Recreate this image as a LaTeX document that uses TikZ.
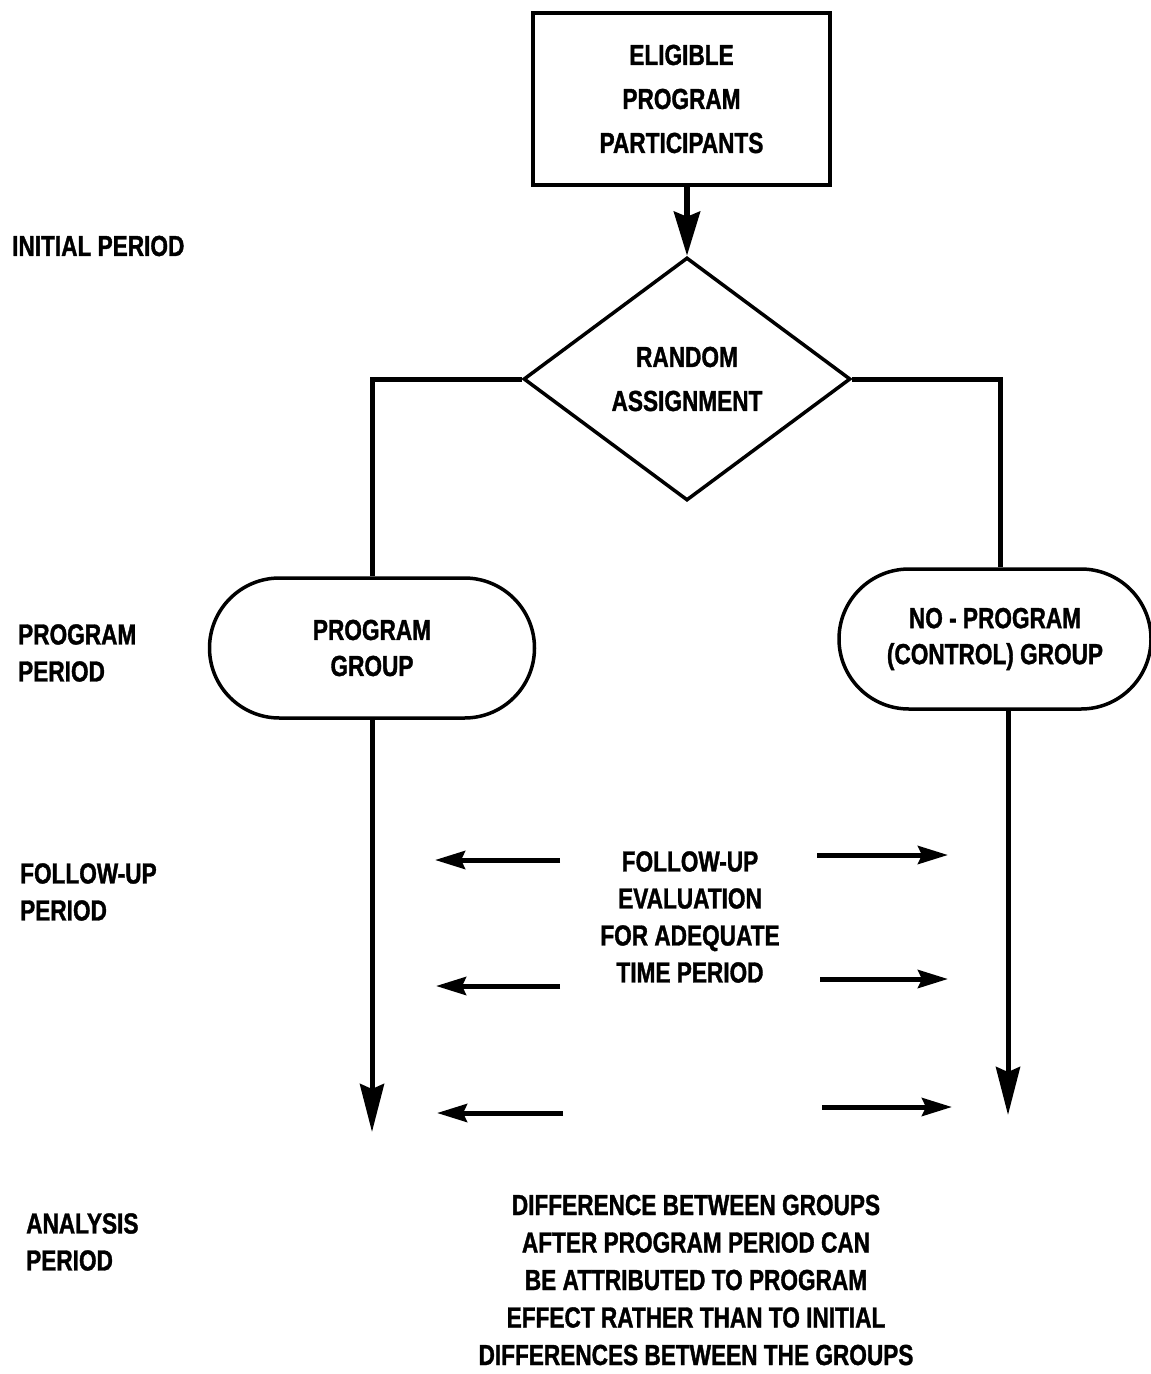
\documentclass[tikz,border=0pt]{standalone}
\usepackage{fontspec}
\setmainfont{Liberation Sans}[FakeStretch=0.78, BoldFeatures={FakeBold=1.2}]
\usetikzlibrary{shapes.geometric,shapes.misc,arrows.meta}

\tikzset{
  txt/.style={font=\bfseries\fontsize{29}{37}\selectfont, inner sep=0pt, align=center},
  sidelbl/.style={txt, align=left, anchor=west},
  boxnode/.style={txt, draw, line width=3.5pt, minimum width=297pt, minimum height=172pt,
    font=\bfseries\fontsize{29}{44}\selectfont},
  decision/.style={txt, diamond, draw, line width=3.5pt, aspect=1.35,
    minimum width=327pt, minimum height=243pt, font=\bfseries\fontsize{29}{44}\selectfont},
  pill/.style={txt, rounded rectangle, draw, line width=3.5pt,
    minimum width=325pt, minimum height=140pt, font=\bfseries\fontsize{29}{36}\selectfont},
  conn/.style={line width=5pt},
  varrow/.style={line width=5pt, -{Stealth[length=48pt,width=24pt,inset=5pt]}},
  harrow/.style={line width=5pt, -{Stealth[length=30pt,width=18pt,inset=4pt]}}
}

\begin{document}
\begin{tikzpicture}[x=1pt,y=-1pt]
  \useasboundingbox (0,0) rectangle (1151,1374);
  \fill[white] (0,0) rectangle (1151,1374);

  % period labels on the left
  \node[sidelbl] (lInit) at (12,246) {INITIAL PERIOD};
  \node[sidelbl] (lProg) at (18,653) {PROGRAM\\PERIOD};
  \node[sidelbl] (lFoll) at (20,892) {FOLLOW-UP\\PERIOD};
  \node[sidelbl] (lAnal) at (26,1242) {ANALYSIS\\PERIOD};

  % flow chart
  \node[boxnode] (elig) at (681.5,99) {ELIGIBLE\\PROGRAM\\PARTICIPANTS};
  \node[decision] (rand) at (687,379) {RANDOM\\ASSIGNMENT};
  \node[pill] (pg) at (372,648) {PROGRAM\\GROUP};
  \node[pill, minimum width=312pt] (npg) at (995,639) {NO - PROGRAM\\(CONTROL) GROUP};

  \draw[line width=6pt, -{Stealth[length=44pt,width=26pt,inset=5pt]}]
    (rand.north |- elig.south) -- (rand.north);
  \draw[conn] (rand.west) -| (pg.north);
  \coordinate (npgtop) at (1000,639);
  \draw[conn] (rand.east) -| (npgtop |- npg.north);

  \coordinate (pgend) at (372,1132);
  \coordinate (npgend) at (1008,1115);
  \draw[varrow] (pg.south) -- (pgend);
  \draw[varrow] (npgend |- npg.south) -- (npgend);

  % follow-up evaluation
  \node[txt] (fu) at (690,917) {FOLLOW-UP\\EVALUATION\\FOR ADEQUATE\\TIME PERIOD};

  \coordinate (l1s) at (560,860);  \coordinate (l1e) at (435,860);
  \coordinate (l2s) at (560,986);  \coordinate (l2e) at (436,986);
  \coordinate (l3s) at (563,1113); \coordinate (l3e) at (437,1113);
  \coordinate (r1s) at (817,855);  \coordinate (r1e) at (948,855);
  \coordinate (r2s) at (820,979);  \coordinate (r2e) at (948,979);
  \coordinate (r3s) at (822,1107); \coordinate (r3e) at (952,1107);
  \foreach \a in {l1,l2,l3,r1,r2,r3} {
    \draw[harrow] (\a s) -- (\a e);
  }

  % conclusion
  \node[txt, font=\bfseries\fontsize{29}{37.5}\selectfont] (concl) at (696,1280)
    {DIFFERENCE BETWEEN GROUPS\\AFTER PROGRAM PERIOD CAN\\BE ATTRIBUTED TO PROGRAM\\EFFECT RATHER THAN TO INITIAL\\DIFFERENCES BETWEEN THE GROUPS};
\end{tikzpicture}
\end{document}
